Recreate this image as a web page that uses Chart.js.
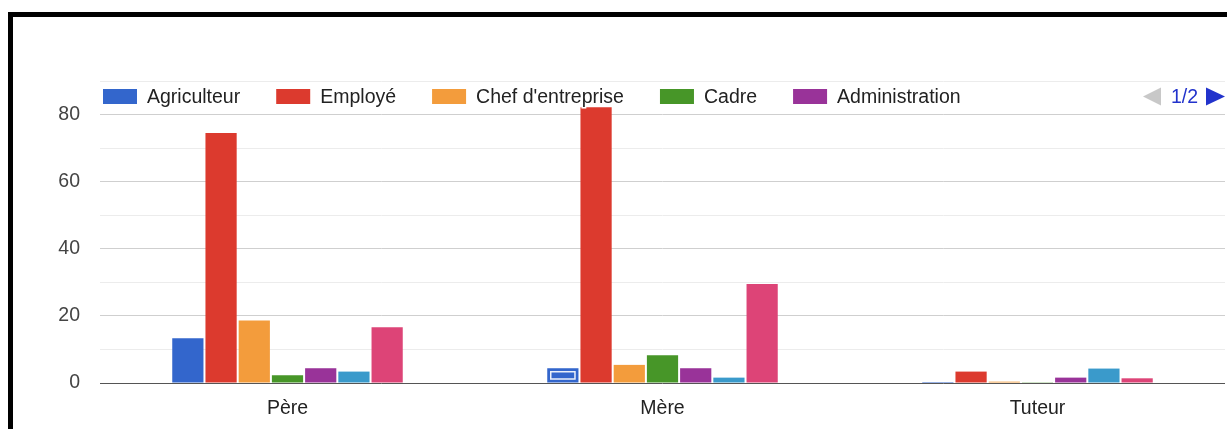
<!DOCTYPE html>
<html lang="fr">
<head>
<meta charset="utf-8">
<title>Profession des parents</title>
<script src="https://cdn.jsdelivr.net/npm/chart.js@4/dist/chart.umd.min.js"></script>
<style>
  html, body { margin: 0; padding: 0; background: #fff; overflow: hidden; }
  #cadre {
    position: absolute; left: 8px; top: 12px; width: 1400px; height: 600px;
    border-top: 5px solid #000; border-left: 5px solid #000;
  }
  #zone { position: absolute; left: 0; top: 0; width: 1227px; height: 429px; }
</style>
</head>
<body>
<div id="cadre"></div>
<div id="zone"><canvas id="grafico"></canvas></div>
<script>
// Données (en %)
const categories = ["Père", "Mère", "Tuteur"];
const series = ["Agriculteur", "Employé", "Chef d'entreprise", "Cadre", "Administration", "Commerçant", "Sans emploi"];
const couleurs = ["#3366cc", "#dc3a2e", "#f39c3c", "#479628", "#993399", "#3a9acb", "#dd4477"];
const valeurs = [
    [13.3, 4.4, 0.3],
    [74.5, 82.2, 3.4],
    [18.6, 5.4, 0.4],
    [2.3, 8.3, 0.2],
    [4.4, 4.4, 1.6],
    [3.4, 1.6, 4.3],
    [16.6, 29.5, 1.4]
];
const ticksMajeurs = [0, 20, 40, 60, 80];
const legendeVisible = 5;   // page 1/2 de la légende

const police = "'Liberation Sans', Arial, sans-serif";
const taille = 19.5;

// Barre sélectionnée (contour intérieur blanc) : Agriculteur / Mère
const selection = { serie: 0, index: 1 };

const pluginSelection = {
    id: "selection",
    afterDatasetsDraw(chart) {
        const el = chart.getDatasetMeta(selection.serie).data[selection.index];
        if (!el) return;
        const ctx = chart.ctx;
        const w = el.width, h = el.base - el.y;
        ctx.save();
        ctx.strokeStyle = "rgba(255,255,255,0.9)";
        ctx.lineWidth = 1.5;
        ctx.strokeRect(el.x - w / 2 + 3.5, el.y + 3.5, w - 7, h - 7);
        ctx.restore();
    }
};

const pluginLegende = {
    id: "legendeGoogle",
    afterDatasetsDraw(chart) {
        const ctx = chart.ctx;
        const area = chart.chartArea;
        const y = 96.5;
        let x = 103;
        ctx.save();
        ctx.font = taille + "px " + police;
        ctx.textBaseline = "middle";
        for (let i = 0; i < legendeVisible; i++) {
            ctx.fillStyle = couleurs[i];
            ctx.fillRect(x, y - 7.5, 34, 15);
            const tx = x + 44;
            const tw = ctx.measureText(series[i]).width;
            ctx.lineWidth = 3;
            ctx.strokeStyle = "#fff";
            ctx.strokeText(series[i], tx, y + 1);
            ctx.fillStyle = "#222";
            ctx.fillText(series[i], tx, y + 1);
            x = tx + tw + 36;
        }
        // pagination
        const r = area.right;
        ctx.fillStyle = "#c8c8c8";
        ctx.beginPath();
        ctx.moveTo(r - 82, y);
        ctx.lineTo(r - 64, y - 9);
        ctx.lineTo(r - 64, y + 9);
        ctx.closePath();
        ctx.fill();
        ctx.fillStyle = "#2233cc";
        ctx.textAlign = "left";
        ctx.fillText("1/2", r - 54, y + 1);
        ctx.beginPath();
        ctx.moveTo(r - 19, y - 9);
        ctx.lineTo(r, y);
        ctx.lineTo(r - 19, y + 9);
        ctx.closePath();
        ctx.fill();
        ctx.restore();
    }
};

const datasets = series.map((nom, i) => ({
    label: nom,
    data: valeurs[i],
    backgroundColor: couleurs[i],
    borderColor: couleurs[i],
    borderWidth: 0,
    categoryPercentage: 0.62,
    barPercentage: 0.94
}));

new Chart(document.getElementById("grafico").getContext("2d"), {
    type: "bar",
    data: { labels: categories, datasets: datasets },
    plugins: [pluginSelection, pluginLegende],
    options: {
        responsive: true,
        maintainAspectRatio: false,
        animation: false,
        layout: { padding: { top: 81, right: 2, left: 0, bottom: 0 } },
        plugins: {
            legend: { display: false },
            tooltip: { enabled: false }
        },
        scales: {
            x: {
                grid: { display: false, drawTicks: false },
                border: { display: false },
                ticks: { color: "#222", font: { family: police, size: taille }, padding: 14 },
                afterFit: s => { s.height = 46; }
            },
            y: {
                min: 0,
                max: 90,
                border: { display: false },
                grid: {
                    drawTicks: false,
                    lineWidth: 1,
                    color: c => c.tick.value === 0 ? "#555" : (ticksMajeurs.includes(c.tick.value) ? "#cfcfcf" : "#ececec")
                },
                ticks: {
                    stepSize: 10,
                    padding: 20,
                    color: "#444",
                    font: { family: police, size: taille },
                    callback: v => ticksMajeurs.includes(v) ? v : ""
                },
                afterFit: s => { s.width = 100; }
            }
        }
    }
});
</script>
</body>
</html>
